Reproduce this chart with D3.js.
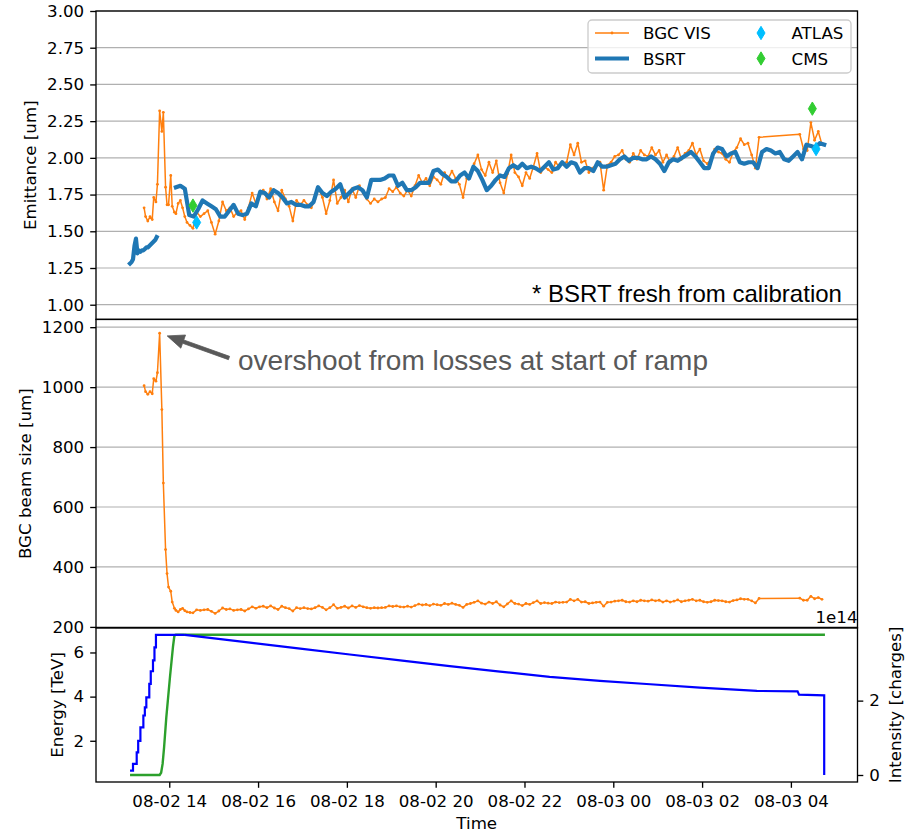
<!DOCTYPE html>
<html>
<head>
<meta charset="utf-8">
<script src="https://cdn.jsdelivr.net/npm/d3@7"></script>
<style>
  body { margin: 0; background: #fff; }
  svg text { font-family: "DejaVu Sans", sans-serif; }
</style>
</head>
<body>
<svg id="chart" width="908" height="833"></svg>
<script>
// ---------------------------------------------------------------
// Fill 2 Aug 2022: emittance, BGC beam size, energy and intensity
// ---------------------------------------------------------------

// BSRT emittance [um] during injection, every 2 minutes from 13:07
const bsrtInjectionStart = "08-02 13:07";
const bsrtInjection = [1.28,1.29,1.31,1.40,1.45,1.35,1.37,1.36,1.37,1.37,1.38,1.39,1.39,1.40,1.41,1.42,1.43,1.44,1.46];

// BSRT emittance [um] at flat top, every 6 minutes from 14:09
const bsrtFlatTopStart = "08-02 14:09";
const bsrtFlatTop = [
  1.80,1.81,1.79,1.61,1.60,1.65,1.71,1.69,1.67,1.65,
  1.60,1.60,1.64,1.68,1.62,1.61,1.62,1.69,1.67,1.77,
  1.76,1.73,1.78,1.76,1.73,1.69,1.70,1.68,1.68,1.67,
  1.67,1.70,1.80,1.76,1.74,1.77,1.79,1.82,1.73,1.76,
  1.79,1.80,1.78,1.73,1.85,1.85,1.85,1.86,1.88,1.88,
  1.81,1.83,1.78,1.78,1.80,1.83,1.83,1.83,1.91,1.92,
  1.89,1.87,1.84,1.84,1.88,1.90,1.86,1.94,1.91,1.85,
  1.78,1.81,1.85,1.88,1.87,1.93,1.95,1.93,1.96,1.93,
  1.94,1.93,1.91,1.94,1.97,1.92,1.93,1.97,1.94,1.97,
  1.96,1.90,1.93,1.93,1.91,1.97,1.94,1.94,1.95,1.96,
  1.99,2.01,1.98,2.00,2.00,1.99,1.99,2.01,1.99,1.96,
  1.91,1.97,1.99,1.98,2.00,2.02,2.04,2.01,1.97,1.93,
  1.93,2.03,2.07,2.06,2.01,2.03,2.04,1.97,1.96,1.97,
  1.97,1.93,2.04,2.06,2.05,2.03,2.04,1.99,1.98,2.01,
  2.04,1.99,2.09,2.08,2.07,2.10,2.09
];

// BGC VIS around injection and ramp (irregular logging)
const bgcRampTimes = [
  "08-02 13:26","08-02 13:28","08-02 13:31","08-02 13:34","08-02 13:37",
  "08-02 13:39","08-02 13:42","08-02 13:44","08-02 13:47","08-02 13:50",
  "08-02 13:52","08-02 13:55","08-02 13:57","08-02 13:59","08-02 14:02",
  "08-02 14:04","08-02 14:07","08-02 14:09","08-02 14:12","08-02 14:15",
  "08-02 14:18","08-02 14:21","08-02 14:24","08-02 14:28","08-02 14:32"
];
const bgcRampEmittance = [1.66,1.60,1.57,1.60,1.58,1.73,1.70,1.82,2.32,2.18,2.31,1.80,1.68,1.68,1.88,1.67,1.63,1.62,1.69,1.71,1.66,1.60,1.56,1.54,1.52];
const bgcRampSize = [1005,985,976,985,978,1028,1020,1048,1180,925,680,458,378,333,319,283,262,255,250,258,262,254,250,248,247];

// BGC VIS at flat top, every 5 minutes from 14:37
const bgcFlatTopStart = "08-02 14:37";
const bgcFlatTopEmittance = [
  1.63,1.60,1.62,1.64,1.56,1.48,1.57,1.70,1.64,1.66,
  1.60,1.63,1.64,1.58,1.66,1.76,1.69,1.75,1.78,1.72,
  1.79,1.70,1.64,1.78,1.72,1.67,1.57,1.71,1.68,1.71,
  1.68,1.66,1.72,1.79,1.73,1.62,1.71,1.85,1.69,1.73,
  1.78,1.70,1.79,1.73,1.81,1.76,1.72,1.69,1.72,1.70,
  1.72,1.73,1.79,1.77,1.80,1.76,1.74,1.78,1.74,1.81,
  1.88,1.83,1.86,1.81,1.87,1.85,1.82,1.90,1.86,1.91,
  1.86,1.82,1.73,1.86,1.90,1.96,2.02,1.92,1.88,1.97,
  1.90,1.98,1.83,1.76,1.89,2.02,1.90,1.87,1.81,1.90,
  1.86,1.94,2.03,1.90,1.94,1.92,1.90,1.97,1.94,1.96,
  1.97,2.09,2.02,2.10,1.97,1.98,1.90,1.93,1.95,1.97,
  1.78,1.95,1.97,2.01,2.02,2.05,1.99,1.97,2.03,1.99,
  2.05,2.02,2.01,2.07,2.02,2.05,1.97,2.02,1.97,2.01,
  2.07,1.99,2.03,2.05,2.10,2.02,2.06,1.98,1.96,1.99,
  2.06,2.04,2.03,1.99,1.97,2.04,2.07,2.13,2.09,2.10,
  2.02,1.93,2.14
];
const bgcFlatTopSize = [
  257,255,257,258,252,245,253,263,258,260,
  255,257,258,253,260,267,262,267,269,264,
  270,263,258,269,264,261,253,264,261,264,
  261,260,264,270,265,257,264,274,262,265,
  269,263,270,265,271,267,264,262,264,263,
  264,265,270,268,270,267,266,269,266,271,
  276,273,275,271,276,274,272,278,275,279,
  275,272,265,275,278,282,287,279,276,283,
  278,284,273,267,277,287,278,276,271,278,
  275,281,287,278,281,279,278,283,281,282,
  283,292,287,292,283,284,278,280,282,283,
  269,282,283,286,287,289,284,283,287,284,
  289,287,286,290,287,289,283,287,283,286,
  290,284,287,289,292,287,289,284,282,284,
  289,288,287,284,283,288,290,294,292,292,
  287,280,295
];

// BGC VIS after the logging gap, every 5 minutes from 04:12
const bgcLateStart = "08-03 04:12";
const bgcLateEmittance = [2.16,2.06,2.05,2.24,2.12,2.18,2.09];
const bgcLateSize = [296,289,289,302,294,298,292];

// Luminosity-derived emittance from the experiments [um]
const atlasTimes = ["08-02 14:37","08-03 04:34"];
const atlasEmittance = [1.56, 2.06];
const cmsTimes = ["08-02 14:32","08-03 04:29"];
const cmsEmittance = [1.675, 2.335];

// Beam energy [TeV]
const energyTimes = ["08-02 13:07","08-02 13:47","08-02 13:49","08-02 13:51","08-02 13:53","08-02 13:56","08-02 14:01","08-02 14:05","08-02 14:07","08-02 14:09","08-03 04:46"];
const energyValues = [0.45,0.45,0.55,0.95,1.70,3.06,4.90,6.25,6.78,6.80,6.80];

// Beam intensity [1e14 charges]: injection steps, then decay and dump
const intensityInjTimes = ["08-02 13:07","08-02 13:11","08-02 13:16","08-02 13:18","08-02 13:21","08-02 13:25","08-02 13:27","08-02 13:29","08-02 13:33","08-02 13:35","08-02 13:38","08-02 13:40","08-02 13:42","08-02 14:21"];
const intensityInjValues = [0.12,0.30,0.61,0.92,1.28,1.60,1.82,2.09,2.45,2.79,3.08,3.43,3.77,3.77];
const intensityDecayTimes = ["08-02 14:21","08-02 15:49","08-02 16:57","08-02 18:04","08-02 19:12","08-02 20:19","08-02 21:27","08-02 22:34","08-02 23:42","08-03 00:50","08-03 01:57","08-03 03:14","08-03 04:09","08-03 04:11","08-03 04:45","08-03 04:45"];
const intensityDecayValues = [3.77,3.56,3.40,3.24,3.08,2.93,2.78,2.64,2.53,2.44,2.35,2.26,2.25,2.16,2.14,0.00];

// Tick values
const emitTicks = [1.00,1.25,1.50,1.75,2.00,2.25,2.50,2.75,3.00];
const sizeTicks = [200,400,600,800,1000,1200];
const energyTicks = [2,4,6];
const intensityTicks = [0,2];

// ---------------------------------------------------------------
const parseTime = d3.timeParse("%Y-%m-%d %H:%M");
const at = s => parseTime("2022-" + s);
const regular = (start, stepMin, values) =>
  values.map((v, i) => ({ t: d3.timeMinute.offset(at(start), i * stepMin), v }));
const paired = (times, values) => values.map((v, i) => ({ t: at(times[i]), v }));

const FS = 16.67;
const L = 96, R = 857.5;
const P1 = [11, 319.4], P2 = [319.4, 627.8], P3 = [627.8, 782];

const C = {
  bgc: "#ff7f0e", bsrt: "#1f77b4", atlas: "#00bfff", cms: "#32cd32",
  energy: "#2ca02c", intensity: "#0000ff", grid: "#b0b0b0", note: "#595959"
};

const x = d3.scaleTime().domain([at("08-02 12:21"), at("08-03 05:30")]).range([L, R]);
const yEmit = d3.scaleLinear().domain([0.9, 3.0]).range([P1[1], P1[0]]);
const ySize = d3.scaleLinear().domain([197, 1226]).range([P2[1], P2[0]]);
const yEnergy = d3.scaleLinear().domain([0.1325, 7.1175]).range([P3[1], P3[0]]);
const yInt = d3.scaleLinear().domain([-0.1885, 3.9585]).range([P3[1], P3[0]]);

const svg = d3.select("#chart");
svg.append("rect").attr("width", 908).attr("height", 833).attr("fill", "#fff");

const defs = svg.append("defs");
[["clipEmit", P1], ["clipSize", P2], ["clipRamp", P3]].forEach(([id, p]) => {
  defs.append("clipPath").attr("id", id)
    .append("rect").attr("x", L).attr("y", p[0]).attr("width", R - L).attr("height", p[1] - p[0]);
});

// Horizontal grid lines
function grid(scale, ticks) {
  svg.append("g").selectAll("line").data(ticks).join("line")
    .attr("x1", L).attr("x2", R)
    .attr("y1", d => scale(d)).attr("y2", d => scale(d))
    .attr("stroke", C.grid).attr("stroke-width", 1.2);
}
grid(yEmit, emitTicks);
grid(ySize, sizeTicks);

// ---------- top panel: emittance ----------
const bgcEmit = [
  ...paired(bgcRampTimes, bgcRampEmittance),
  ...regular(bgcFlatTopStart, 5, bgcFlatTopEmittance),
  ...regular(bgcLateStart, 5, bgcLateEmittance)
];
const bgcSize = [
  ...paired(bgcRampTimes, bgcRampSize),
  ...regular(bgcFlatTopStart, 5, bgcFlatTopSize),
  ...regular(bgcLateStart, 5, bgcLateSize)
];

const gEmit = svg.append("g").attr("clip-path", "url(#clipEmit)");
const lineEmit = d3.line().x(d => x(d.t)).y(d => yEmit(d.v));

gEmit.append("path").datum(bgcEmit).attr("d", lineEmit)
  .attr("fill", "none").attr("stroke", C.bgc).attr("stroke-width", 1.5).attr("stroke-linejoin", "round");
gEmit.append("g").selectAll("circle").data(bgcEmit).join("circle")
  .attr("cx", d => x(d.t)).attr("cy", d => yEmit(d.v)).attr("r", 1.4).attr("fill", C.bgc);

[regular(bsrtInjectionStart, 2, bsrtInjection), regular(bsrtFlatTopStart, 6, bsrtFlatTop)].forEach(seg => {
  gEmit.append("path").datum(seg).attr("d", lineEmit)
    .attr("fill", "none").attr("stroke", C.bsrt).attr("stroke-width", 4.2)
    .attr("stroke-linejoin", "round").attr("stroke-linecap", "square");
});

const diamond = "M0,-6.67L4,0L0,6.67L-4,0Z";
function diamonds(g, pts, color) {
  g.append("g").selectAll("path").data(pts).join("path")
    .attr("d", diamond)
    .attr("transform", d => `translate(${x(d.t)},${yEmit(d.v)})`)
    .attr("fill", color).attr("stroke", color).attr("stroke-width", 1);
}
diamonds(gEmit, paired(atlasTimes, atlasEmittance), C.atlas);
diamonds(gEmit, paired(cmsTimes, cmsEmittance), C.cms);

// ---------- middle panel: BGC beam size ----------
const gSize = svg.append("g").attr("clip-path", "url(#clipSize)");
const lineSize = d3.line().x(d => x(d.t)).y(d => ySize(d.v));
gSize.append("path").datum(bgcSize).attr("d", lineSize)
  .attr("fill", "none").attr("stroke", C.bgc).attr("stroke-width", 1.5).attr("stroke-linejoin", "round");
gSize.append("g").selectAll("circle").data(bgcSize).join("circle")
  .attr("cx", d => x(d.t)).attr("cy", d => ySize(d.v)).attr("r", 1.4).attr("fill", C.bgc);

// ---------- bottom panel: energy and intensity ----------
const gRamp = svg.append("g").attr("clip-path", "url(#clipRamp)");
gRamp.append("path").datum(paired(energyTimes, energyValues))
  .attr("d", d3.line().x(d => x(d.t)).y(d => yEnergy(d.v)))
  .attr("fill", "none").attr("stroke", C.energy).attr("stroke-width", 2.4);
gRamp.append("path").datum(paired(intensityInjTimes, intensityInjValues))
  .attr("d", d3.line().curve(d3.curveStepAfter).x(d => x(d.t)).y(d => yInt(d.v)))
  .attr("fill", "none").attr("stroke", C.intensity).attr("stroke-width", 2.2);
gRamp.append("path").datum(paired(intensityDecayTimes, intensityDecayValues))
  .attr("d", d3.line().x(d => x(d.t)).y(d => yInt(d.v)))
  .attr("fill", "none").attr("stroke", C.intensity).attr("stroke-width", 2.2);

// ---------- frames ----------
[P1, P2, P3].forEach(p => {
  svg.append("rect").attr("x", L).attr("y", p[0]).attr("width", R - L).attr("height", p[1] - p[0])
    .attr("fill", "none").attr("stroke", "#000").attr("stroke-width", 1.33);
});

// ---------- axes ----------
function styleAxis(g) {
  g.select(".domain").remove();
  g.selectAll(".tick line").attr("stroke", "#000").attr("stroke-width", 1.33);
  g.selectAll(".tick text").attr("fill", "#000").style("font-size", FS + "px");
}
svg.append("g").attr("transform", `translate(${L},0)`)
  .call(d3.axisLeft(yEmit).tickValues(emitTicks).tickFormat(d3.format(".2f")).tickSize(5.8).tickPadding(6))
  .call(styleAxis);
svg.append("g").attr("transform", `translate(${L},0)`)
  .call(d3.axisLeft(ySize).tickValues(sizeTicks).tickFormat(d3.format("d")).tickSize(5.8).tickPadding(6))
  .call(styleAxis);
svg.append("g").attr("transform", `translate(${L},0)`)
  .call(d3.axisLeft(yEnergy).tickValues(energyTicks).tickFormat(d3.format("d")).tickSize(5.8).tickPadding(6))
  .call(styleAxis);
svg.append("g").attr("transform", `translate(${R},0)`)
  .call(d3.axisRight(yInt).tickValues(intensityTicks).tickFormat(d3.format("d")).tickSize(5.8).tickPadding(6))
  .call(styleAxis);
svg.append("g").attr("transform", `translate(0,${P3[1]})`)
  .call(d3.axisBottom(x).ticks(d3.timeHour.every(2)).tickFormat(d3.timeFormat("%m-%d %H")).tickSize(5.8).tickPadding(7))
  .call(styleAxis);

// Offset label of the intensity axis
svg.append("text").attr("x", R).attr("y", 623).attr("text-anchor", "end")
  .style("font-size", FS + "px").text("1e14");

// Axis titles
function vlabel(cx, cy, text) {
  svg.append("text").attr("transform", `translate(${cx},${cy}) rotate(-90)`)
    .attr("text-anchor", "middle").attr("dy", "0.35em")
    .style("font-size", FS + "px").text(text);
}
vlabel(30, (P1[0] + P1[1]) / 2, "Emittance [um]");
vlabel(25, (P2[0] + P2[1]) / 2, "BGC beam size [um]");
vlabel(57, (P3[0] + P3[1]) / 2, "Energy [TeV]");
vlabel(895, (P3[0] + P3[1]) / 2, "Intensity [charges]");
svg.append("text").attr("x", (L + R) / 2).attr("y", 829).attr("text-anchor", "middle")
  .style("font-size", FS + "px").text("Time");

// ---------- legend ----------
const legendItems = [
  { label: "BGC VIS", kind: "dotline", color: C.bgc },
  { label: "BSRT", kind: "line", color: C.bsrt },
  { label: "ATLAS", kind: "diamond", color: C.atlas },
  { label: "CMS", kind: "diamond", color: C.cms }
];
const lg = svg.append("g");
lg.append("rect").attr("x", 588).attr("y", 20).attr("width", 263).attr("height", 53).attr("rx", 4)
  .attr("fill", "#fff").attr("fill-opacity", 0.8).attr("stroke", "#cccccc").attr("stroke-width", 1.33);
legendItems.forEach((it, i) => {
  const col = Math.floor(i / 2), row = i % 2;
  const hx = col === 0 ? 595 : 744, tx = col === 0 ? 643 : 791.5;
  const cy = row === 0 ? 33 : 58.5;
  const g = lg.append("g");
  if (it.kind === "dotline" || it.kind === "line") {
    g.append("line").attr("x1", hx).attr("x2", hx + 34).attr("y1", cy).attr("y2", cy)
      .attr("stroke", it.color).attr("stroke-width", it.kind === "line" ? 4.2 : 1.5);
    if (it.kind === "dotline") g.append("circle").attr("cx", hx + 17).attr("cy", cy).attr("r", 1.4).attr("fill", it.color);
  } else {
    g.append("path").attr("d", diamond).attr("transform", `translate(${hx + 17},${cy})`)
      .attr("fill", it.color).attr("stroke", it.color).attr("stroke-width", 1);
  }
  g.append("text").attr("x", tx).attr("y", cy).attr("dy", "0.36em")
    .style("font-size", FS + "px").text(it.label);
});

// ---------- notes ----------
svg.append("text").attr("x", 532).attr("y", 302)
  .style("font-family", "'Liberation Sans', Arial, sans-serif").style("font-size", "24px")
  .attr("fill", "#000").text("* BSRT fresh from calibration");

// Arrow pointing at the size overshoot
const peak = { t: at(bgcRampTimes[8]), v: bgcRampSize[8] };
const px = x(peak.t), py = ySize(peak.v);
const textX = 238, textY = 370;
const tail = [textX - 9, textY - 12];
const dx = tail[0] - px, dy = tail[1] - py, len = Math.hypot(dx, dy);
const ux = dx / len, uy = dy / len, nx = -uy, ny = ux;
const tip = [px + ux * 8, py + uy * 8];
const headLen = 17, headHalf = 7, shaftHalf = 1.75;
const base = [tip[0] + ux * headLen, tip[1] + uy * headLen];
const arrowPts = [
  tip,
  [base[0] + nx * headHalf, base[1] + ny * headHalf],
  [base[0] + nx * shaftHalf, base[1] + ny * shaftHalf],
  [tail[0] + nx * shaftHalf, tail[1] + ny * shaftHalf],
  [tail[0] - nx * shaftHalf, tail[1] - ny * shaftHalf],
  [base[0] - nx * shaftHalf, base[1] - ny * shaftHalf],
  [base[0] - nx * headHalf, base[1] - ny * headHalf]
];
svg.append("polygon").attr("points", arrowPts.map(p => p.join(",")).join(" "))
  .attr("fill", C.note).attr("stroke", C.note).attr("stroke-width", 0.8).attr("stroke-linejoin", "round");
svg.append("text").attr("x", textX).attr("y", textY)
  .style("font-family", "'Liberation Sans', Arial, sans-serif").style("font-size", "28px")
  .attr("fill", C.note).text("overshoot from losses at start of ramp");
</script>
</body>
</html>
